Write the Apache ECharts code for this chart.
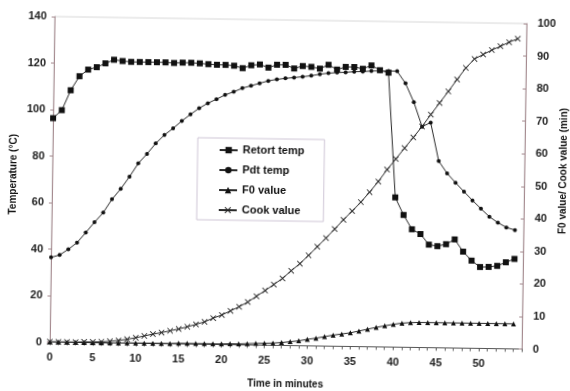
<!DOCTYPE html>
<html>
<head>
<meta charset="utf-8">
<script src="https://cdn.jsdelivr.net/npm/echarts@6/dist/echarts.min.js"></script>
<style>
html,body{margin:0;padding:0;background:#fff;overflow:hidden;}
#chart{width:570px;height:391px;transform:rotate(0.85deg);transform-origin:285px 195.5px;}
</style>
</head>
<body>
<div id="chart"></div>
<script>
// Time in minutes
var timeMin = [0,1,2,3,4,5,6,7,8,9,10,11,12,13,14,15,16,17,18,19,20,21,22,23,24,25,26,27,28,29,30,31,32,33,34,35,36,37,38,39,40,41,42,43,44,45,46,47,48,49,50,51,52,53,54];
// Retort temp (°C)
var retortTemp = [96.3,99.8,108.4,114.5,117.4,118.5,120.2,121.8,121.3,121.0,121.0,121.0,121.0,121.0,120.8,121.0,121.0,120.8,120.5,120.3,120.3,120.0,119.0,120.3,120.7,119.4,120.7,120.7,119.2,120.3,120.0,119.3,121.0,119.0,120.2,120.2,119.5,121.0,119.0,118.0,64.4,56.9,50.8,48.8,44.3,43.7,44.6,46.7,41.5,37.7,35.0,35.1,35.6,37.2,38.7];
// Pdt temp (°C)
var pdtTemp = [36.4,37.5,40.0,42.9,47.3,51.8,56.0,61.8,66.3,71.6,77.4,81.5,86.1,89.8,92.7,95.9,98.8,101.5,103.7,105.5,107.4,108.8,110.4,111.5,112.6,113.7,114.4,114.9,115.3,115.7,116.2,116.9,117.4,117.7,117.9,118.2,118.3,118.6,118.7,118.7,118.7,113.5,105.5,95.0,96.8,80.3,75.1,71.1,67.3,63.6,60.1,56.7,54.2,52.2,51.1];
// F0 value (min)
var f0Value = [0,0,0,0,0,0,0,0,0,0.1,0.1,0.1,0.1,0.1,0.1,0.2,0.2,0.2,0.2,0.2,0.2,0.3,0.3,0.4,0.5,0.6,0.7,0.9,1.2,1.5,2.0,2.4,2.9,3.4,3.8,4.2,4.8,5.4,6.0,6.5,7.0,7.4,7.6,7.7,7.7,7.7,7.7,7.7,7.7,7.7,7.7,7.7,7.7,7.7,7.7];
// Cook value (min)
var cookValue = [0.1,0.1,0.1,0.1,0.2,0.2,0.3,0.5,0.8,1.2,1.7,2.3,2.9,3.4,4.0,4.6,5.3,6.1,6.9,8.1,9.1,10.4,11.7,13.2,15.0,16.8,18.7,20.6,23.0,25.2,27.8,30.5,33.2,36.0,38.9,41.6,44.4,47.5,50.8,54.5,57.8,61.2,64.5,67.9,71.6,75.2,78.8,82.5,86.1,88.9,90.3,91.7,92.9,94.2,95.3];

var seriesNames = ['Retort temp','Pdt temp','F0 value','Cook value'];
var rightAxisTitle = 'F0 value/ Cook value (min)';

function pairs(vals){ return timeMin.map(function(t,i){ return [t, vals[i]]; }); }

var FONT = 'Liberation Sans, Arial, sans-serif';
var crossPath = 'path://M0,1L1,0L5,4L9,0L10,1L6,5L10,9L9,10L5,6L1,10L0,9L4,5Z';
var lineCol = '#2a2a2a';

var chart = echarts.init(document.getElementById('chart'), null, {renderer:'canvas'});
chart.setOption({
  animation:false,
  backgroundColor:'#fff',
  grid:{left:52, right:46, top:20, bottom:45.5, containLabel:false, outerBoundsMode:'none',
        show:true, borderColor:'#d8d8d8', borderWidth:1, backgroundColor:'transparent'},
  legend:{
    data:seriesNames, orient:'vertical', left:197, top:139,
    backgroundColor:'#fff', borderColor:'#cfc6d6', borderWidth:1,
    padding:[5,20,3,21], itemGap:6, itemWidth:18, itemHeight:8,
    textStyle:{fontFamily:FONT, fontWeight:'bold', fontSize:11, lineHeight:14, color:'#111'}
  },
  graphic:[{
    type:'text', x:563, y:167, rotation:Math.PI/2,
    style:{text:rightAxisTitle, fontFamily:FONT, fontWeight:'bold', fontSize:10, fill:'#111', align:'center', verticalAlign:'middle'}
  }],
  xAxis:{
    type:'value', min:0, max:55, interval:5,
    name:'Time in minutes', nameLocation:'middle', nameGap:34, nameMoveOverlap:false,
    nameTextStyle:{fontFamily:FONT, fontWeight:'bold', fontSize:10, color:'#111'},
    axisLine:{show:true, lineStyle:{color:'#555', width:1}},
    axisTick:{show:true, length:3, lineStyle:{color:'#555'}},
    minorTick:{show:true, splitNumber:5, length:3, lineStyle:{color:'#666'}},
    splitLine:{show:false},
    axisLabel:{fontFamily:FONT, fontWeight:'bold', fontSize:11, color:'#222', margin:10, showMaxLabel:false}
  },
  yAxis:[{
    type:'value', min:0, max:140, interval:20, position:'left',
    name:'Temperature (°C)', nameLocation:'middle', nameGap:34, nameRotate:90, nameMoveOverlap:false,
    nameTextStyle:{fontFamily:FONT, fontWeight:'bold', fontSize:10, color:'#111', padding:[0,0,0,9]},
    axisLine:{show:true, lineStyle:{color:'#a58a8f', width:1}},
    axisTick:{show:true, length:3, lineStyle:{color:'#a58a8f'}},
    splitLine:{show:false},
    axisLabel:{fontFamily:FONT, fontWeight:'bold', fontSize:11, color:'#222', margin:8}
  },{
    type:'value', min:0, max:100, interval:10, position:'right',
    axisLine:{show:true, lineStyle:{color:'#a58a8f', width:1}},
    axisTick:{show:true, length:3, inside:true, lineStyle:{color:'#a58a8f'}},
    splitLine:{show:false},
    axisLabel:{fontFamily:FONT, fontWeight:'bold', fontSize:11, color:'#222', margin:11}
  }],
  series:[
    {name:seriesNames[0], type:'line', yAxisIndex:0, data:pairs(retortTemp), symbol:'rect', symbolSize:6,
     itemStyle:{color:'#111'}, lineStyle:{color:lineCol, width:1}, z:4},
    {name:seriesNames[1], type:'line', yAxisIndex:0, data:pairs(pdtTemp), symbol:'circle', symbolSize:4,
     itemStyle:{color:'#111'}, lineStyle:{color:lineCol, width:1}, z:3},
    {name:seriesNames[2], type:'line', yAxisIndex:1, data:pairs(f0Value), symbol:'triangle', symbolSize:5,
     itemStyle:{color:'#111'}, lineStyle:{color:lineCol, width:1}, z:3},
    {name:seriesNames[3], type:'line', yAxisIndex:1, data:pairs(cookValue), symbol:crossPath, symbolSize:6,
     itemStyle:{color:'#222'}, lineStyle:{color:lineCol, width:1}, z:3}
  ]
});
</script>
</body>
</html>
